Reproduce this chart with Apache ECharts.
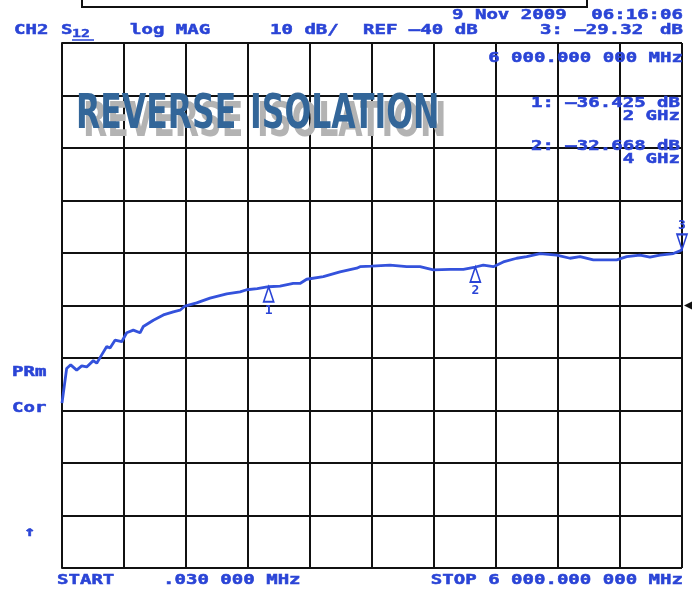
<!DOCTYPE html>
<html>
<head>
<meta charset="utf-8">
<script src="https://cdn.jsdelivr.net/npm/echarts@6/dist/echarts.min.js"></script>
<style>
  html, body { margin: 0; padding: 0; background: #fff; }
  #chart { width: 694px; height: 595px; }
</style>
</head>
<body>
<div id="chart"></div>
<script>
// trace, frequency in MHz, S12 in dB
const freqMHz = [0.03, 45, 84, 142, 191, 239, 303, 336, 384, 433, 465, 513, 578, 626, 690, 755, 787, 884, 981, 1077,
  1142, 1190, 1303, 1432, 1594, 1723, 1787, 1890, 2000, 2110, 2238, 2303, 2368, 2529, 2690, 2852, 2884, 2997, 3174,
  3336, 3465, 3594, 3755, 3884, 4000, 4077, 4174, 4271, 4400, 4497, 4626, 4787, 4916, 5013, 5142, 5271, 5368, 5465,
  5594, 5690, 5787, 5916, 5981, 6000];
const s12dB = [-58.6, -52.0, -51.3, -52.3, -51.5, -51.7, -50.5, -51.0, -49.4, -47.8, -48.1, -46.6, -46.9, -45.2, -44.7,
  -45.2, -44.0, -42.8, -41.8, -41.2, -40.9, -40.1, -39.5, -38.6, -37.8, -37.4, -37.0, -36.8, -36.425, -36.3, -35.8,
  -35.8, -35.0, -34.5, -33.6, -32.9, -32.6, -32.5, -32.3, -32.6, -32.6, -33.2, -33.1, -33.1, -32.668, -32.3, -32.6,
  -31.7, -31.0, -30.7, -30.1, -30.4, -31.0, -30.7, -31.3, -31.3, -31.3, -30.7, -30.4, -30.8, -30.4, -30.1, -29.6, -29.32];

// markers
const markerNames = ['1', '2', '3'];
const markerFreq = [2000, 4000, 6000];
const markerDB = [-36.425, -32.668, -29.32];

const refLevel = -40;
const yMin = -90, yMax = 10, yStep = 10;
const xMin = 0, xMax = 6000, xStep = 600;

const blue = '#2a44d6';
const mono = '"DejaVu Sans Mono", monospace';
const titleFont = 'bold 48px "Liberation Sans Narrow", "DejaVu Sans Condensed", sans-serif';

// plotter style text, stretched sideways
function label(text, x, y, align, size) {
  return {
    type: 'text', x: x, y: y, scaleX: 1.36, z: 10,
    style: {
      text: text, fill: blue, stroke: blue, lineWidth: 0.5,
      font: 'bold ' + (size || 14) + 'px ' + mono,
      textAlign: align || 'left', textVerticalAlign: 'middle'
    }
  };
}

// one word of the title, grey copy drawn a little down and right
function titleWord(text, x) {
  return [
    { type: 'text', x: x + 7, y: 124, z: 20, scaleX: 0.73,
      style: { text: text, fill: '#b3b3b3', font: titleFont, textVerticalAlign: 'middle' } },
    { type: 'text', x: x, y: 116, z: 21, scaleX: 0.73,
      style: { text: text, fill: '#336699', font: titleFont, textVerticalAlign: 'middle' } }
  ];
}

const myChart = echarts.init(document.getElementById('chart'));

const markData = markerNames.map((n, i) => {
  const up = i < 2;
  return {
    name: n,
    coord: [markerFreq[i], markerDB[i]],
    symbol: 'path://M5,0 L10,14 L0,14 Z',
    symbolSize: [10, 15],
    symbolRotate: up ? 0 : 180,
    symbolOffset: [0, up ? 7.5 : -7.5],
    itemStyle: { color: 'rgba(0,0,0,0)', borderColor: blue, borderWidth: 1.8 },
    label: {
      show: true, formatter: n, color: blue,
      fontFamily: mono, fontWeight: 'bold', fontSize: 13,
      position: up ? 'bottom' : 'top', distance: 1
    }
  };
});
// reference level indicator at the right edge
markData.push({
  name: 'ref',
  coord: [xMax, refLevel],
  symbol: 'triangle',
  symbolSize: [8, 8],
  symbolRotate: 90,
  symbolOffset: [6, 0],
  itemStyle: { color: '#111', borderWidth: 0 },
  label: { show: false }
});

const option = {
  backgroundColor: '#fff',
  animation: false,
  grid: { left: 62, right: 12, top: 43, bottom: 27 },
  xAxis: {
    type: 'value', min: xMin, max: xMax, interval: xStep,
    axisLine: { show: true, lineStyle: { color: '#111', width: 2 } },
    axisTick: { show: false },
    axisLabel: { show: false },
    splitLine: { show: true, lineStyle: { color: '#111', width: 2 } }
  },
  yAxis: {
    type: 'value', min: yMin, max: yMax, interval: yStep,
    axisLine: { show: true, lineStyle: { color: '#111', width: 2 } },
    axisTick: { show: false },
    axisLabel: { show: false },
    splitLine: { show: true, lineStyle: { color: '#111', width: 2 } }
  },
  series: [{
    type: 'line',
    data: freqMHz.map((f, i) => [f, s12dB[i]]),
    showSymbol: false,
    lineStyle: { color: '#3452dc', width: 2.8 },
    markPoint: { data: markData, z: 5 },
    z: 3
  }],
  graphic: [
    // cut-off box at the top
    { type: 'rect', shape: { x: 82, y: -10, width: 505, height: 17 },
      style: { fill: '#fff', stroke: '#111', lineWidth: 2 } },
    label('9 Nov 2009', 452, 15),
    label('06:16:06', 683, 15, 'right'),
    label('CH2', 14, 30),
    label('S', 61, 30),
    { type: 'text', x: 72, y: 34, scaleX: 1.36,
      style: { text: '12', fill: blue, stroke: blue, lineWidth: 0.4, font: 'bold 11px ' + mono, textVerticalAlign: 'middle' } },
    { type: 'line', shape: { x1: 72, y1: 40, x2: 94, y2: 40 }, style: { stroke: blue, lineWidth: 1.5 } },
    label('log MAG', 130, 30),
    label('10 dB/', 270, 30),
    label('REF \u201340 dB', 363, 30),
    label('3: \u201329.32', 540, 30),
    label('dB', 683, 30, 'right'),
    label('6 000.000 000 MHz', 683, 58, 'right'),
    label('1: \u201336.425 dB', 680, 103, 'right'),
    label('2 GHz', 680, 116, 'right'),
    label('2: \u201332.668 dB', 680, 146, 'right'),
    label('4 GHz', 680, 159, 'right'),
    label('PRm', 12, 372),
    label('Cor', 12, 408),
    label('\u2191', 24, 532),
    label('START', 57, 580),
    label('.030 000 MHz', 163, 580),
    label('STOP 6 000.000 000 MHz', 683, 580, 'right')
  ].concat(titleWord('REVERSE', 76), titleWord('ISOLATION', 250))
};

myChart.setOption(option);
</script>
</body>
</html>
